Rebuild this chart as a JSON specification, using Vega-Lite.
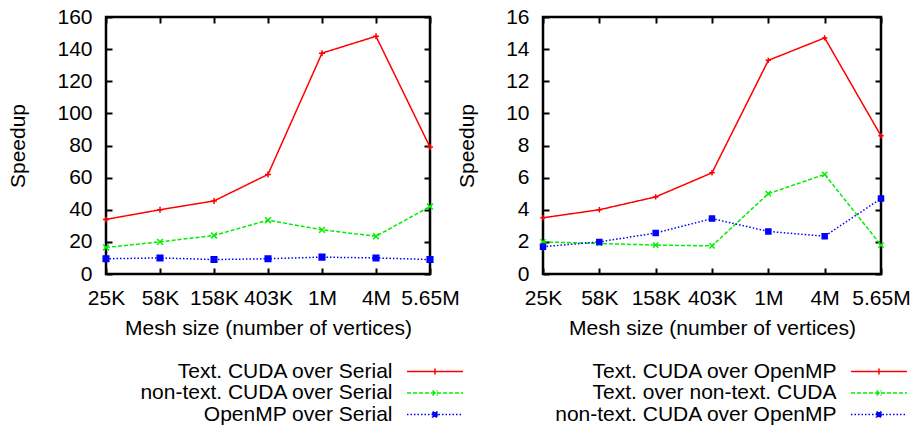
{
  "$schema": "https://vega.github.io/schema/vega-lite/v6.json",
  "padding": {"left": 6, "top": 4, "right": 0, "bottom": 0},
  "background": "white",
  "bounds": "flush",
  "spacing": 113,
  "datasets": {
    "serial": [
      {"mesh": "25K", "series": "Text. CUDA over Serial", "speedup": 34},
      {"mesh": "58K", "series": "Text. CUDA over Serial", "speedup": 40},
      {"mesh": "158K", "series": "Text. CUDA over Serial", "speedup": 45.5},
      {"mesh": "403K", "series": "Text. CUDA over Serial", "speedup": 62},
      {"mesh": "1M", "series": "Text. CUDA over Serial", "speedup": 137.5},
      {"mesh": "4M", "series": "Text. CUDA over Serial", "speedup": 148},
      {"mesh": "5.65M", "series": "Text. CUDA over Serial", "speedup": 79},
      {"mesh": "25K", "series": "non-text. CUDA over Serial", "speedup": 16.5},
      {"mesh": "58K", "series": "non-text. CUDA over Serial", "speedup": 20},
      {"mesh": "158K", "series": "non-text. CUDA over Serial", "speedup": 24},
      {"mesh": "403K", "series": "non-text. CUDA over Serial", "speedup": 33.5},
      {"mesh": "1M", "series": "non-text. CUDA over Serial", "speedup": 27.5},
      {"mesh": "4M", "series": "non-text. CUDA over Serial", "speedup": 23.5},
      {"mesh": "5.65M", "series": "non-text. CUDA over Serial", "speedup": 42},
      {"mesh": "25K", "series": "OpenMP over Serial", "speedup": 9.5},
      {"mesh": "58K", "series": "OpenMP over Serial", "speedup": 10},
      {"mesh": "158K", "series": "OpenMP over Serial", "speedup": 9},
      {"mesh": "403K", "series": "OpenMP over Serial", "speedup": 9.5},
      {"mesh": "1M", "series": "OpenMP over Serial", "speedup": 10.5},
      {"mesh": "4M", "series": "OpenMP over Serial", "speedup": 10},
      {"mesh": "5.65M", "series": "OpenMP over Serial", "speedup": 9}
    ],
    "openmp": [
      {"mesh": "25K", "series": "Text. CUDA over OpenMP", "speedup": 3.5},
      {"mesh": "58K", "series": "Text. CUDA over OpenMP", "speedup": 4.0},
      {"mesh": "158K", "series": "Text. CUDA over OpenMP", "speedup": 4.8},
      {"mesh": "403K", "series": "Text. CUDA over OpenMP", "speedup": 6.3},
      {"mesh": "1M", "series": "Text. CUDA over OpenMP", "speedup": 13.3},
      {"mesh": "4M", "series": "Text. CUDA over OpenMP", "speedup": 14.7},
      {"mesh": "5.65M", "series": "Text. CUDA over OpenMP", "speedup": 8.6},
      {"mesh": "25K", "series": "Text. over non-text. CUDA", "speedup": 2.0},
      {"mesh": "58K", "series": "Text. over non-text. CUDA", "speedup": 1.9},
      {"mesh": "158K", "series": "Text. over non-text. CUDA", "speedup": 1.8},
      {"mesh": "403K", "series": "Text. over non-text. CUDA", "speedup": 1.75},
      {"mesh": "1M", "series": "Text. over non-text. CUDA", "speedup": 5.0},
      {"mesh": "4M", "series": "Text. over non-text. CUDA", "speedup": 6.2},
      {"mesh": "5.65M", "series": "Text. over non-text. CUDA", "speedup": 1.8},
      {"mesh": "25K", "series": "non-text. CUDA over OpenMP", "speedup": 1.7},
      {"mesh": "58K", "series": "non-text. CUDA over OpenMP", "speedup": 2.0},
      {"mesh": "158K", "series": "non-text. CUDA over OpenMP", "speedup": 2.55},
      {"mesh": "403K", "series": "non-text. CUDA over OpenMP", "speedup": 3.45},
      {"mesh": "1M", "series": "non-text. CUDA over OpenMP", "speedup": 2.65},
      {"mesh": "4M", "series": "non-text. CUDA over OpenMP", "speedup": 2.35},
      {"mesh": "5.65M", "series": "non-text. CUDA over OpenMP", "speedup": 4.7}
    ]
  },
  "hconcat": [
    {
      "width": 324,
      "height": 257,
      "data": {"name": "serial"},
      "resolve": {"axis": {"x": "independent", "y": "independent"}},
      "layer": [
        {
          "mark": {"type": "line", "strokeWidth": 1.5, "clip": true},
          "encoding": {
            "x": {"field": "mesh", "type": "ordinal", "sort": ["25K", "58K", "158K", "403K", "1M", "4M", "5.65M"], "scale": {"type": "point", "padding": 0}, "axis": {"title": "Mesh size (number of vertices)", "orient": "bottom"}},
            "y": {"field": "speedup", "type": "quantitative", "scale": {"domain": [0, 160], "nice": false}, "axis": {"title": "Speedup", "values": [0, 20, 40, 60, 80, 100, 120, 140, 160], "orient": "left"}},
            "color": {"field": "series", "type": "nominal", "scale": {"domain": ["Text. CUDA over Serial", "non-text. CUDA over Serial", "OpenMP over Serial"], "range": ["#ff0000", "#00ee00", "#0000ff"]},
              "legend": {
                "orient": "none", "legendX": 286, "legendY": 344,
                "encode": {"symbols": {"update": {
                  "shape": {"signal": "datum.value === 'Text. CUDA over Serial' ? 'M 4 0 L 60 0 M 29 0 L 35 0 M 32 -3 L 32 3' : datum.value === 'non-text. CUDA over Serial' ? 'M 4 0 L 60 0 M 29.5 -2.5 L 34.5 2.5 M 29.5 2.5 L 34.5 -2.5' : 'M 4 0 L 60 0 M 29.5 -2.5 L 34.5 -2.5 L 34.5 2.5 L 29.5 2.5 Z'"},
                  "strokeDash": {"signal": "datum.value === 'Text. CUDA over Serial' ? [1, 0] : datum.value === 'non-text. CUDA over Serial' ? [4, 2] : [1.5, 2]"},
                  "fill": {"signal": "datum.value === 'OpenMP over Serial' ? '#0000ff' : 'transparent'"}
                }}}
              }},
            "strokeDash": {"field": "series", "type": "nominal", "legend": null, "scale": {"domain": ["Text. CUDA over Serial", "non-text. CUDA over Serial", "OpenMP over Serial"], "range": [[1, 0], [4, 2], [1.5, 2]]}}
          }
        },
        {
          "mark": {"type": "point", "filled": false, "strokeWidth": 1.5, "opacity": 1},
          "encoding": {
            "x": {"field": "mesh", "type": "ordinal", "sort": ["25K", "58K", "158K", "403K", "1M", "4M", "5.65M"], "scale": {"type": "point", "padding": 0}, "axis": {"title": null, "labels": false, "orient": "top"}},
            "y": {"field": "speedup", "type": "quantitative", "scale": {"domain": [0, 160], "nice": false}, "axis": {"title": null, "labels": false, "values": [0, 20, 40, 60, 80, 100, 120, 140, 160], "orient": "right"}},
            "color": {"field": "series", "type": "nominal"},
            "fill": {"field": "series", "type": "nominal", "legend": null, "scale": {"domain": ["Text. CUDA over Serial", "non-text. CUDA over Serial", "OpenMP over Serial"], "range": ["transparent", "transparent", "#0000ff"]}},
            "shape": {"field": "series", "type": "nominal", "legend": null, "scale": {"domain": ["Text. CUDA over Serial", "non-text. CUDA over Serial", "OpenMP over Serial"], "range": ["M -1 0 L 1 0 M 0 -1 L 0 1", "M -1 -1 L 1 1 M -1 1 L 1 -1", "square"]}},
            "size": {"field": "series", "type": "nominal", "legend": null, "scale": {"domain": ["Text. CUDA over Serial", "non-text. CUDA over Serial", "OpenMP over Serial"], "range": [36, 25, 12]}}
          }
        }
      ]
    },
    {
      "width": 338,
      "height": 257,
      "data": {"name": "openmp"},
      "resolve": {"axis": {"x": "independent", "y": "independent"}},
      "layer": [
        {
          "mark": {"type": "line", "strokeWidth": 1.5, "clip": true},
          "encoding": {
            "x": {"field": "mesh", "type": "ordinal", "sort": ["25K", "58K", "158K", "403K", "1M", "4M", "5.65M"], "scale": {"type": "point", "padding": 0}, "axis": {"title": "Mesh size (number of vertices)", "orient": "bottom"}},
            "y": {"field": "speedup", "type": "quantitative", "scale": {"domain": [0, 16], "nice": false}, "axis": {"title": "Speedup", "values": [0, 2, 4, 6, 8, 10, 12, 14, 16], "orient": "left"}},
            "color": {"field": "series", "type": "nominal", "scale": {"domain": ["Text. CUDA over OpenMP", "Text. over non-text. CUDA", "non-text. CUDA over OpenMP"], "range": ["#ff0000", "#00ee00", "#0000ff"]},
              "legend": {
                "orient": "none", "legendX": 293, "legendY": 344,
                "encode": {"symbols": {"update": {
                  "shape": {"signal": "datum.value === 'Text. CUDA over OpenMP' ? 'M 4 0 L 60 0 M 29 0 L 35 0 M 32 -3 L 32 3' : datum.value === 'Text. over non-text. CUDA' ? 'M 4 0 L 60 0 M 29.5 -2.5 L 34.5 2.5 M 29.5 2.5 L 34.5 -2.5' : 'M 4 0 L 60 0 M 29.5 -2.5 L 34.5 -2.5 L 34.5 2.5 L 29.5 2.5 Z'"},
                  "strokeDash": {"signal": "datum.value === 'Text. CUDA over OpenMP' ? [1, 0] : datum.value === 'Text. over non-text. CUDA' ? [4, 2] : [1.5, 2]"},
                  "fill": {"signal": "datum.value === 'non-text. CUDA over OpenMP' ? '#0000ff' : 'transparent'"}
                }}}
              }},
            "strokeDash": {"field": "series", "type": "nominal", "legend": null, "scale": {"domain": ["Text. CUDA over OpenMP", "Text. over non-text. CUDA", "non-text. CUDA over OpenMP"], "range": [[1, 0], [4, 2], [1.5, 2]]}}
          }
        },
        {
          "mark": {"type": "point", "filled": false, "strokeWidth": 1.5, "opacity": 1},
          "encoding": {
            "x": {"field": "mesh", "type": "ordinal", "sort": ["25K", "58K", "158K", "403K", "1M", "4M", "5.65M"], "scale": {"type": "point", "padding": 0}, "axis": {"title": null, "labels": false, "orient": "top"}},
            "y": {"field": "speedup", "type": "quantitative", "scale": {"domain": [0, 16], "nice": false}, "axis": {"title": null, "labels": false, "values": [0, 2, 4, 6, 8, 10, 12, 14, 16], "orient": "right"}},
            "color": {"field": "series", "type": "nominal"},
            "fill": {"field": "series", "type": "nominal", "legend": null, "scale": {"domain": ["Text. CUDA over OpenMP", "Text. over non-text. CUDA", "non-text. CUDA over OpenMP"], "range": ["transparent", "transparent", "#0000ff"]}},
            "shape": {"field": "series", "type": "nominal", "legend": null, "scale": {"domain": ["Text. CUDA over OpenMP", "Text. over non-text. CUDA", "non-text. CUDA over OpenMP"], "range": ["M -1 0 L 1 0 M 0 -1 L 0 1", "M -1 -1 L 1 1 M -1 1 L 1 -1", "square"]}},
            "size": {"field": "series", "type": "nominal", "legend": null, "scale": {"domain": ["Text. CUDA over OpenMP", "Text. over non-text. CUDA", "non-text. CUDA over OpenMP"], "range": [36, 25, 12]}}
          }
        }
      ]
    }
  ],
  "resolve": {"scale": {"color": "independent", "fill": "independent", "x": "independent", "y": "independent"}, "legend": {"color": "independent"}},
  "config": {
    "font": "Liberation Sans",
    "view": {"stroke": "black", "strokeWidth": 2.5},
    "axis": {"grid": false, "domain": false, "tickColor": "black", "tickSize": -6, "tickWidth": 2, "labelColor": "black", "labelFontSize": 21, "titleFontSize": 21, "titleFontWeight": "normal", "titleColor": "black", "labelFont": "Liberation Sans", "titleFont": "Liberation Sans", "labelOverlap": false},
    "axisX": {"labelPadding": 19, "titlePadding": 9, "labelAngle": 0},
    "axisY": {"labelPadding": 20, "titlePadding": 28},
    "legend": {"title": null, "labelAlign": "right", "labelOffset": -21, "labelFontSize": 21, "labelFont": "Liberation Sans", "labelColor": "black", "labelLimit": 500, "symbolSize": 4, "symbolStrokeWidth": 1.5, "symbolOffset": 0.5, "rowPadding": -0.5, "padding": 0, "symbolType": "M 4 0 L 60 0"}
  }
}
